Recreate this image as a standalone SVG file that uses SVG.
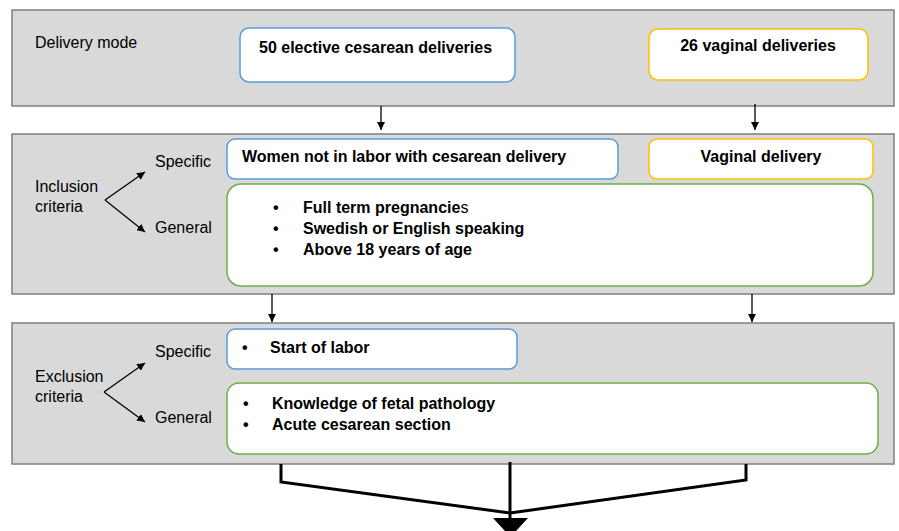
<svg xmlns="http://www.w3.org/2000/svg" width="899" height="531" viewBox="0 0 899 531">
<style>
text{font-family:"Liberation Sans",Arial,sans-serif;font-size:16px;fill:#000}
.b{font-weight:bold}
.panel{fill:#d9d9d9;stroke:#7f7f7f;stroke-width:1.5}
.blue{fill:#fff;stroke:#5b9bd5;stroke-width:1.5}
.yel{fill:#fff;stroke:#ffc000;stroke-width:1.5}
.grn{fill:#fff;stroke:#70ad47;stroke-width:1.5}
.ar{fill:none;stroke:#000;stroke-width:1.3}
.thick{fill:none;stroke:#000;stroke-width:3}
</style>
<defs>
<marker id="ah" viewBox="0 0 10 10" refX="10" refY="5" markerWidth="8" markerHeight="8" markerUnits="userSpaceOnUse" orient="auto">
<path d="M0,0 L10,5 L0,10 z" fill="#000"/>
</marker>
</defs>
<g id="panel-delivery">
<rect class="panel" x="12" y="10" width="882" height="96"/>
<text x="35" y="48">Delivery mode</text>
</g>
<g id="node-cesarean">
<rect class="blue" x="240" y="28" width="275" height="54" rx="9"/>
<text class="b" x="259" y="53">50 elective cesarean deliveries</text>
</g>
<g id="node-vaginal">
<rect class="yel" x="649" y="29" width="219" height="51" rx="9"/>
<text class="b" x="758" y="51" text-anchor="middle">26 vaginal deliveries</text>
</g>
<g id="panel-inclusion">
<rect class="panel" x="12" y="134" width="882" height="160"/>
<text x="35" y="192">Inclusion</text>
<text x="35" y="212">criteria</text>
<text x="155" y="167">Specific</text>
<text x="155" y="233">General</text>
</g>
<g id="node-incl-cesarean">
<rect class="blue" x="227" y="139" width="391" height="40" rx="8"/>
<text class="b" x="242" y="162">Women not in labor with cesarean delivery</text>
</g>
<g id="node-incl-vaginal">
<rect class="yel" x="649" y="139" width="224" height="40" rx="8"/>
<text class="b" x="761" y="162" text-anchor="middle">Vaginal delivery</text>
</g>
<g id="node-incl-general">
<rect class="grn" x="227" y="184" width="646" height="102" rx="14"/>
<text class="b" x="273" y="213">•</text>
<text class="b" x="303" y="213">Full term pregnancie<tspan font-weight="normal">s</tspan></text>
<text class="b" x="273" y="234">•</text>
<text class="b" x="303" y="234">Swedish or English speaking</text>
<text class="b" x="273" y="255">•</text>
<text class="b" x="303" y="255">Above 18 years of age</text>
</g>
<g id="panel-exclusion">
<rect class="panel" x="12" y="323" width="882" height="141"/>
<text x="35" y="382">Exclusion</text>
<text x="35" y="402">criteria</text>
<text x="155" y="357">Specific</text>
<text x="155" y="423">General</text>
</g>
<g id="node-excl-specific">
<rect class="blue" x="227" y="329" width="290" height="40" rx="8"/>
<text class="b" x="242" y="353">•</text>
<text class="b" x="270" y="353">Start of labor</text>
</g>
<g id="node-excl-general">
<rect class="grn" x="227" y="383" width="651" height="71" rx="12"/>
<text class="b" x="243" y="409">•</text>
<text class="b" x="272" y="409">Knowledge of fetal pathology</text>
<text class="b" x="243" y="430">•</text>
<text class="b" x="272" y="430">Acute cesarean section</text>
</g>
<g id="connectors">
<line class="ar" x1="381" y1="106" x2="381" y2="130" marker-end="url(#ah)"/>
<line class="ar" x1="755" y1="104" x2="755" y2="130" marker-end="url(#ah)"/>
<line class="ar" x1="272" y1="294" x2="272" y2="322" marker-end="url(#ah)"/>
<line class="ar" x1="752" y1="294" x2="752" y2="322" marker-end="url(#ah)"/>
<line class="ar" x1="105" y1="200" x2="145" y2="172" marker-end="url(#ah)"/>
<line class="ar" x1="105" y1="200" x2="145" y2="232" marker-end="url(#ah)"/>
<line class="ar" x1="104" y1="392" x2="145" y2="363" marker-end="url(#ah)"/>
<line class="ar" x1="104" y1="392" x2="145" y2="422" marker-end="url(#ah)"/>
<polyline class="thick" points="281,464 281,482 510,513"/>
<polyline class="thick" points="746,464 746,480 510,513"/>
<line class="thick" x1="510" y1="462" x2="510" y2="520"/>
<polygon points="493,518 528,518 510.5,537" fill="#000"/>
</g>
</svg>
